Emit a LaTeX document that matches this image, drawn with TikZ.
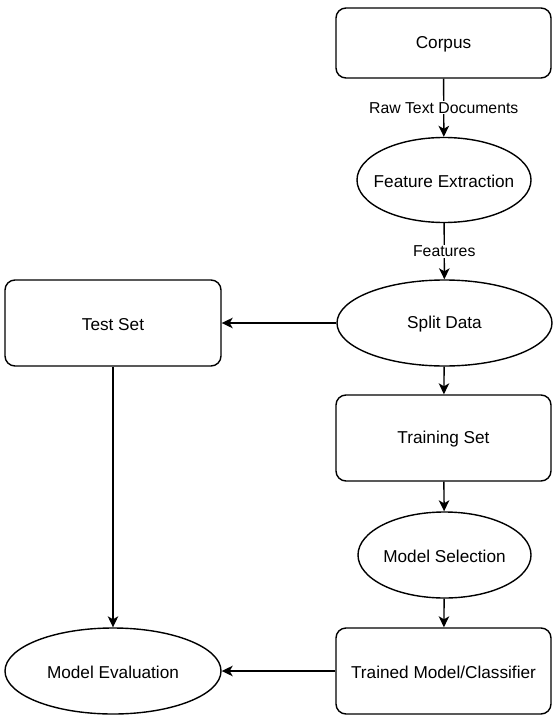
\documentclass[tikz,border=0pt]{standalone}
\usepackage{fontspec}
\setmainfont{Liberation Sans}
\usetikzlibrary{arrows.meta,shapes.geometric}
\begin{document}
\begin{tikzpicture}[x=1pt,y=-1pt,
  txt/.style={label={[font=\fontsize{17.2}{20}\selectfont, inner sep=0pt, yshift=-1.5pt]center:#1}},
  box/.style={draw, line width=1.4pt, rounded corners=10pt, inner sep=0pt},
  oval/.style={draw, line width=1.4pt, ellipse, inner sep=0pt},
  conn/.style={line width=1.4pt, -{Stealth[length=11pt,width=10.5pt,inset=3pt]}},
  lab/.style={fill=white, inner sep=1pt, font=\fontsize{15.8}{18}\selectfont}]
\useasboundingbox (0,0) rectangle (558,722);
\node[box, minimum width=215pt, minimum height=70pt, txt=Corpus] (corpus) at (443.5,43) {};
\node[oval, minimum width=174pt, minimum height=85pt, txt=Feature Extraction] (fe) at (444,180) {};
\node[oval, minimum width=215pt, minimum height=86pt, txt=Split Data] (split) at (444.5,323) {};
\node[box, minimum width=216pt, minimum height=86pt, txt=Test Set] (test) at (113,323) {};
\node[box, minimum width=215pt, minimum height=86pt, txt=Training Set] (train) at (443.5,438) {};
\node[oval, minimum width=173pt, minimum height=86pt, txt=Model Selection] (msel) at (444.5,555) {};
\node[box, minimum width=215pt, minimum height=86pt, txt=Trained Model/Classifier] (trained) at (443.5,671) {};
\node[oval, minimum width=216pt, minimum height=86pt, txt=Model Evaluation] (meval) at (113,671) {};
\draw[conn] (corpus) -- node[lab] {Raw Text Documents} (fe);
\draw[conn] (fe) -- node[lab] {Features} (split);
\draw[conn] (split) -- (test);
\draw[conn] (split) -- (train);
\draw[conn] (train) -- (msel);
\draw[conn] (msel) -- (trained);
\draw[conn] (trained) -- (meval);
\draw[conn] (test) -- (meval);
\end{tikzpicture}
\end{document}
